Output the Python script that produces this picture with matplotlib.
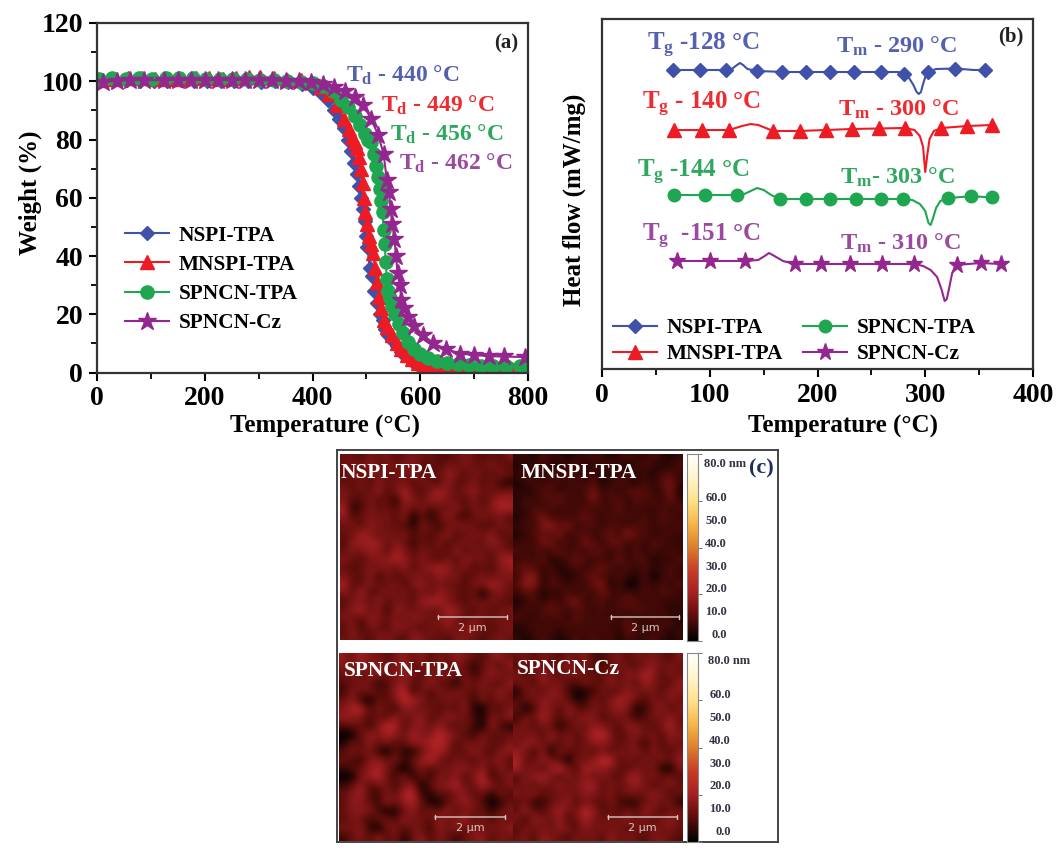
import matplotlib
matplotlib.use("Agg")
import matplotlib.pyplot as plt
from matplotlib.colors import LinearSegmentedColormap
import numpy as np

plt.rcParams['font.family'] = ['Liberation Serif', 'DejaVu Serif']
plt.rcParams['font.weight'] = 'bold'
plt.rcParams['axes.labelweight'] = 'bold'
plt.rcParams['mathtext.fontset'] = 'custom'
plt.rcParams['mathtext.rm'] = 'Liberation Serif:bold'
plt.rcParams['mathtext.default'] = 'rm'

names = ['NSPI-TPA', 'MNSPI-TPA', 'SPNCN-TPA', 'SPNCN-Cz']
colors = ['#3f51a8', '#ed1c24', '#1fa650', '#93278f']
text_colors = ['#5561ad', '#ee2b2f', '#2fa85f', '#9a4a9f']
markers = ['D', '^', 'o', '*']
sizes_a = [7.5, 9.5, 9.5, 13.5]
sizes_b = [7.5, 9.5, 9, 12.5]

# (a) TGA
tga_t = [
    [5, 30, 55, 80, 105, 130, 155, 180, 205, 230, 255, 280, 305, 330, 355, 380, 400, 415, 429, 440, 450, 459, 466, 472, 477,
     482, 486, 490, 494, 497, 500, 502, 506, 510, 515, 520, 525, 530, 535, 541, 548, 556, 565, 575, 585, 594, 601, 612, 625,
     640, 660, 680, 700, 720, 745, 770, 796],
    [8, 33, 58, 83, 108, 133, 158, 183, 208, 233, 258, 283, 303, 328, 353, 378, 398, 415, 431, 446, 459, 468, 474, 479, 483,
     487, 490, 493, 495, 498, 501, 504, 508, 512, 516, 520, 524, 528, 532, 538, 548, 556, 565, 575, 585, 596, 608, 622, 640,
     660, 680, 700, 720, 745, 770, 797],
    [3, 28, 53, 78, 103, 128, 153, 178, 203, 228, 253, 278, 303, 328, 353, 378, 400, 420, 438, 452, 466, 478, 488, 497, 503,
     509, 514, 518, 522, 525, 528, 530, 532, 534, 536, 538, 541, 544, 548, 553, 560, 568, 578, 588, 600, 615, 632, 650, 670,
     690, 712, 735, 760, 785, 798],
    [12, 37, 62, 88, 125, 150, 175, 200, 225, 250, 275, 300, 325, 350, 375, 398, 420, 440, 460, 478, 494, 509, 522, 532, 538,
     542, 545, 548, 552, 555, 558, 562, 565, 570, 578, 588, 605, 624, 648, 674, 700, 728, 755, 795],
]
tga_w = [
    [100, 100, 100.3, 100.2, 100, 100.2, 100.3, 100, 100, 100, 100.2, 100, 99.8, 100, 99.6, 99, 97.8, 96, 93.5, 90, 87, 84, 80,
     76, 72, 68, 64, 60, 56, 52, 47, 43, 36, 33, 28, 24, 20, 18, 15, 13, 11, 9, 7, 5.5, 4, 3, 2, 1.4, 1,
     0.7, 0.5, 0.4, 0.4, 0.4, 0.4, 0.4, 0.4],
    [100.6, 100.8, 101, 101, 100.7, 100.8, 100.8, 101, 101, 100.9, 101.2, 101.6, 101.6, 101, 100.6, 100.3, 99.8, 98, 95.5, 92, 87,
     83.5, 81, 79, 77, 74, 70, 65, 60, 55, 51, 47, 44, 41, 36, 31, 26, 22, 18, 15.5, 13, 10, 8, 6, 4.5, 3.4, 2.6, 2, 1.6,
     1.4, 1.3, 1.3, 1.2, 1.2, 1.2, 1.2],
    [100.7, 101, 100.9, 101.1, 100.8, 101, 101.2, 101, 100.9, 100.8, 100.9, 100.8, 100.6, 100.4, 100.2, 99.8, 99.4, 98.5, 96.5,
     93.5, 91, 88, 85, 82, 80, 79, 75, 71, 67, 63, 59, 55, 49, 44, 38, 32, 28, 25.5, 23, 20, 16.5, 13.5, 10.5, 8, 6.3, 5, 4, 3.3,
     2.8, 2.5, 2.3, 2.2, 2.1, 2.1, 2],
    [99.8, 100.2, 100.4, 100.3, 100.4, 100.5, 100.4, 100.5, 100.3, 100.5, 100.4, 100.3, 100.3, 100, 100, 99.7, 99, 98, 96.6, 94.5,
     92, 87, 81.5, 75, 66, 62, 56, 51, 46, 40, 34, 30, 25, 22, 19, 16, 13, 10, 8, 6.5, 6, 5.6, 5.5, 5.3],
]

# (b) DSC, arbitrary heat flow units
dsc_t = [
    [65, 115, 120, 124, 128, 131, 135, 144, 170, 210, 260, 275, 280, 285, 289, 292, 294, 296, 298, 300, 303, 310, 328, 345, 358],
    [67, 118, 124, 130, 138, 145, 152, 159, 183, 232, 281, 290, 295, 298, 300, 302, 304, 308, 315, 339, 362],
    [67, 125, 132, 138, 144, 150, 157, 165, 189, 258, 280, 288, 295, 300, 303, 305, 307, 310, 314, 321, 342, 362],
    [69, 133, 145, 151, 155, 160, 168, 179, 230, 290, 298, 305, 311, 315, 318, 320, 322, 325, 329, 351, 370],
]
dsc_y = [
    [299, 299, 299.5, 303, 306, 304, 300, 298, 297, 297, 297, 297, 295, 291, 284, 277, 275, 277, 285, 292, 297, 300, 300.5, 299, 299],
    [239, 239, 241, 243, 245, 244, 241, 238, 238, 240, 241, 239, 233, 222, 197, 215, 230, 238, 241, 243, 244],
    [174, 174, 175, 178, 181, 179, 174, 170, 170, 170, 170, 169, 165, 158, 146, 144, 150, 161, 168, 171, 172.7, 171.7],
    [108, 108, 109, 113, 116, 113, 108, 105, 105, 105, 103, 99, 92, 80, 68, 70, 80, 96, 104, 106, 105],
]
dsc_mark_t = [
    [65.5, 90.5, 115, 144, 167, 189, 211.6, 234, 259, 280, 303, 328, 355],
    [67, 93, 118, 159, 183.5, 207.6, 232, 257, 281, 315, 339, 362],
    [67, 95.5, 125, 165, 189, 212, 236, 258.5, 279.5, 321.5, 342.5, 362],
    [69.5, 100, 133, 179, 203, 230, 259.5, 290, 329.6, 351.5, 370],
]
td_labels = ['$T_d$ - 440 °C', '$T_d$ - 449 °C', '$T_d$ - 456 °C', '$T_d$ - 462 °C']
tg_labels = ['$T_g$ -128 °C', '$T_g$ - 140 °C', '$T_g$ -144 °C', '$T_g$  -151 °C']
tm_labels = ['$T_m$ - 290 °C', '$T_m$ - 300 °C', '$T_m$- 303 °C', '$T_m$ - 310 °C']

# (c) AFM height maps, coarse reading of each image, one digit step = 3 nm, digit 5 = 12 nm
afm_nspi = [
    "55465 64565 54456 54546", "56574 65674 54656 55654", "46557 46565 45764 65465", "54646 55646 54745 64632",
    "65557 46854 68656 75556", "64464 52865 77654 64687", "82465 54656 45574 65688", "74565 64715 25743 56564",
    "56476 55426 53566 54465", "55865 65645 45745 65745", "47787 56535 46456 55764", "56677 48646 55474 65565",
    "65466 78756 54647 56478", "54566 65746 78756 45467", "65473 64566 57664 56566", "84565 56467 56554 66875",
    "65845 65646 57654 51565", "46657 46557 88654 65654", "57856 37656 55875 46456", "65476 56576 56764 65565",
    "47365 47654 65756 75456", "56546 65476 55466 54565",
]
afm_mnspi = [
    "33243 32334 32343 34323", "23342 33423 34323 43234", "34233 44334 23343 32443", "23434 33434 23432 43463",
    "32344 34346 34345 43362", "24344 53436 34434 44353", "33434 34343 43534 33434", "23463 43454 34343 43443",
    "34367 46344 34434 43434", "23454 63443 45374 43343", "34365 34364 35534 34433", "43434 53435 43434 34343",
    "34352 34543 43534 42334", "45434 23434 54343 43343", "36724 32345 43432 41343", "47634 43435 62412 43434",
    "34423 34343 54343 43443", "23434 35634 43454 34333", "34345 43443 43434 43423", "43343 43534 34343 34342",
    "23434 34343 43354 33433", "32343 23434 34243 34323",
]
afm_spncn_tpa = [
    "75866 46757 46576 54675", "66757 65846 56465 25647", "56476 56764 65746 35765", "45653 46745 75426 56547",
    "36564 47936 46565 46575", "57315 46986 45656 36465", "68946 53765 64547 21546", "77645 47567 45765 42657",
    "45536 98467 57546 31742", "10576 87586 69764 36455", "25475 64577 89746 56546", "46563 15225 78645 75467",
    "54367 56357 96465 46574", "34578 63146 45667 57465", "11679 54625 36574 69356", "35745 63671 56785 58746",
    "56843 65893 25467 45264", "47653 75785 21567 64125", "56764 12574 65746 55356", "46535 64756 47568 46465",
    "65731 56465 37574 75657", "35647 46257 46535 67465",
]
afm_spncn_cz = [
    "56465 46573 45646 56546", "45564 57465 35654 67565", "64576 46654 56476 87465", "56475 64465 47564 86547",
    "25647 64123 64576 56476", "45576 65236 46875 46565", "51476 47546 56762 35746", "36586 46576 45653 46575",
    "56465 24657 65476 54685", "65647 56468 96457 56476", "57756 46557 76465 36465", "76371 65464 64657 46546",
    "85576 41657 99464 65657", "85647 96487 76546 56216", "46786 46575 65478 56564", "56465 75678 46567 64565",
    "65745 56576 56465 57645", "46235 67465 46423 56562", "57546 85697 45464 76456", "63765 74586 56575 64675",
    "46565 76475 65646 56565", "56476 54656 47565 46654",
]
afm_ticks = [0, 10, 20, 30, 40, 50, 60]

W, H = 1057, 849
fig = plt.figure(figsize=(W / 100, H / 100), dpi=100)


def box(x0, y0, x1, y1):
    return [x0 / W, 1 - y1 / H, (x1 - x0) / W, (y1 - y0) / H]


def put(x, y, s, **kw):
    fig.text(x / W, 1 - y / H, s, va='center', **kw)


def style(ax):
    for sp in ax.spines.values():
        sp.set_linewidth(1.6)
        sp.set_color('#333333')
    ax.tick_params(which='major', length=6, width=1.5, labelsize=20, pad=4)
    ax.tick_params(which='minor', length=4, width=1.3)


# panel a
ax = fig.add_axes(box(97, 23, 528, 372.5))
for i in range(4):
    ax.plot(tga_t[i], tga_w[i], '-', color=colors[i], marker=markers[i], ms=sizes_a[i], mec=colors[i], lw=1.5, label=names[i])
ax.set_xlim(0, 800)
ax.set_ylim(0, 120)
ax.set_xticks([0, 200, 400, 600, 800])
ax.set_xticks([100, 300, 500, 700], minor=True)
ax.set_yticks(range(0, 121, 20))
ax.set_yticks(range(10, 120, 20), minor=True)
style(ax)
ax.set_xlabel('Temperature (°C)', fontsize=18, va='center')
ax.set_ylabel('Weight (%)', fontsize=18, va='center')
ax.xaxis.set_label_coords(0.528, -0.155)
ax.yaxis.set_label_coords(-0.155, 0.515)
ax.legend(loc='upper left', bbox_to_anchor=(0.065, 0.42), frameon=False, fontsize=15.3, handlelength=2.05, handletextpad=0.47,
          labelspacing=0.43, borderpad=0, borderaxespad=0)
put(494, 43, '(a)', ha='left', fontsize=15, color='#222222')
td_pos = [(346, 75), (381, 105), (390, 134), (399, 163)]
for i in range(4):
    put(td_pos[i][0], td_pos[i][1], td_labels[i], ha='left', fontsize=17, color=text_colors[i])

# panel b
ax = fig.add_axes(box(602, 19, 1033, 369))
for i in range(4):
    ax.plot(dsc_t[i], dsc_y[i], '-', color=colors[i], lw=1.5)
    ax.plot(dsc_mark_t[i], np.interp(dsc_mark_t[i], dsc_t[i], dsc_y[i]), linestyle='none', color=colors[i],
            marker=markers[i], ms=sizes_b[i], mec=colors[i])
handles = [plt.Line2D([], [], color=colors[i], marker=markers[i], ms=sizes_b[i], lw=1.5, label=names[i]) for i in range(4)]
ax.legend(handles=handles, loc='lower left', bbox_to_anchor=(0.026, 0.014), ncol=2, frameon=False, fontsize=15.3, handlelength=2.05,
          handletextpad=0.47, columnspacing=0.95, labelspacing=0.28, borderpad=0, borderaxespad=0)
ax.set_xlim(0, 400)
ax.set_ylim(0, 350)
ax.set_xticks([0, 100, 200, 300, 400])
ax.set_xticks([50, 150, 250, 350], minor=True)
ax.set_yticks([])
style(ax)
ax.set_xlabel('Temperature (°C)', fontsize=18, va='center')
ax.set_ylabel('Heat flow (mW/mg)', fontsize=18, va='center')
ax.xaxis.set_label_coords(0.56, -0.165)
ax.yaxis.set_label_coords(-0.065, 0.483)
put(998, 36, '(b)', ha='left', fontsize=15, color='#222222')
tg_pos = [(647, 45), (642, 104), (637, 172), (642, 236)]
tm_pos = [(836, 46), (838, 109), (840, 177), (840, 243)]
for i in range(4):
    put(tg_pos[i][0], tg_pos[i][1], tg_labels[i], ha='left', fontsize=18, color=text_colors[i])
    put(tm_pos[i][0], tm_pos[i][1], tm_labels[i], ha='left', fontsize=17.5, color=text_colors[i])

# panel c
afm_cmap = LinearSegmentedColormap.from_list('afm', [
    (0, '#000000'), (0.125, '#5a0d0a'), (0.25, '#a41f22'), (0.375, '#c83c26'), (0.5, '#dd7f2c'),
    (0.625, '#f8b848'), (0.75, '#ffe28a'), (0.875, '#fff5cf'), (1, '#ffffff')])
frame = fig.add_axes(box(337, 450, 778, 842))
frame.set_xticks([])
frame.set_yticks([])
for sp in frame.spines.values():
    sp.set_linewidth(1.4)
    sp.set_color('#444444')

maps = [afm_nspi, afm_mnspi, afm_spncn_tpa, afm_spncn_cz]
boxes = [(340, 454, 513, 640), (513, 454, 683, 640), (339, 653, 513, 841), (513, 653, 683, 841)]
label_pos = [(341, 473), (521, 473), (344, 671), (517, 669)]
bar_pos = [(438, 617, 507, 628), (611, 617, 679, 628), (435, 817, 505, 828), (608, 817, 677, 828)]
for i in range(4):
    digits = np.array([[int(c) for c in row if c != ' '] for row in maps[i]])
    grid = np.clip(12 + (digits - 5) * 3.0, 0, None)
    a = fig.add_axes(box(*boxes[i]))
    a.imshow(grid, cmap=afm_cmap, vmin=0, vmax=80, aspect='auto', interpolation='bicubic')
    a.axis('off')
    put(label_pos[i][0], label_pos[i][1], names[i], ha='left', fontsize=15.3, color='white')
    x0, y0, x1, y1 = bar_pos[i]
    bw, bh = boxes[i][2] - boxes[i][0], boxes[i][3] - boxes[i][1]
    fy = 1 - (y0 - boxes[i][1]) / bh
    a.annotate('', xy=((x0 - boxes[i][0]) / bw, fy), xytext=((x1 - boxes[i][0]) / bw, fy), xycoords='axes fraction',
               arrowprops=dict(arrowstyle='|-|,widthA=0.15,widthB=0.15', color='#d8c8c0', lw=1, shrinkA=0, shrinkB=0))
    put((x0 + x1) / 2, y1, '2 μm', ha='center', fontsize=8, color='#d8c8c0', family=['DejaVu Sans'], weight='normal')

grad = np.linspace(80, 0, 256).reshape(-1, 1)
bars = [(687, 454, 698, 641), (687, 653, 698, 842)]
label_right = [727, 731]
label_zero = [635, 832]
for j in range(2):
    c = fig.add_axes(box(*bars[j]))
    c.imshow(grad, cmap=afm_cmap, vmin=0, vmax=80, aspect='auto', extent=[0, 1, 0, 80])
    c.set_xticks([])
    c.yaxis.tick_right()
    c.set_yticks([0, 20, 40, 60, 80])
    c.set_yticklabels([])
    c.tick_params(length=3, width=0.7, color='#777777', pad=1)
    for sp in c.spines.values():
        sp.set_linewidth(0.8)
        sp.set_color('#888888')
    for v in afm_ticks:
        put(label_right[j], label_zero[j] - 2.28 * v, f'{v:.1f}', ha='right', fontsize=9, color='#333344')
    put(label_right[j] - 23, label_zero[j] - 171, '80.0 nm', ha='left', fontsize=9, color='#333344')
put(749, 468, '(c)', ha='left', fontsize=16, color='#1f2d5c')

fig.savefig('out.png', dpi=100)
